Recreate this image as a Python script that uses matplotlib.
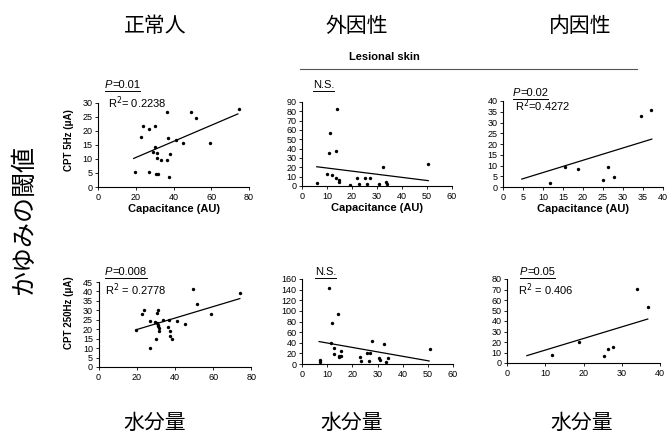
import matplotlib
matplotlib.use("Agg")
import matplotlib.pyplot as plt
import numpy as np
from matplotlib.lines import Line2D

plt.rcParams['font.family'] = ['Liberation Sans', 'DejaVu Sans']
CJK = ['Noto Sans CJK JP', 'DejaVu Sans']

# ---- data: skin capacitance (AU) vs current perception threshold ----
# normal subjects, CPT 5Hz
n5_x = [19.4, 22.9, 24.1, 26.9, 30.3, 26.9, 30.3, 29.4, 31.1, 31.1, 33.2, 30.6, 31.6,
        36.8, 37.3, 36.8, 38.2, 37.6, 41.3, 45.2, 49.2, 51.7, 59.2, 74.5]
n5_y = [5.5, 17.7, 21.8, 20.7, 21.8, 5.5, 14.4, 12.6, 12.3, 10.5, 9.6, 4.5, 4.5,
        26.9, 17.6, 9.6, 11.7, 3.5, 16.8, 15.6, 26.9, 24.8, 15.6, 27.9]
# exogenous (lesional), CPT 5Hz
e5_x = [6.1, 9.9, 11.9, 10.9, 11.2, 13.9, 13.6, 13.6, 14.8, 14.6, 19.2, 22.1, 22.8,
        25.2, 27.2, 26.1, 30.9, 32.5, 33.6, 33.8, 50.5]
e5_y = [2.9, 12.8, 12.3, 34.9, 56.9, 82.0, 37.7, 8.2, 6.0, 4.5, 1.0, 8.2, 2.5,
        8.5, 9.0, 2.5, 2.5, 20.6, 4.0, 2.5, 23.5]
# endogenous (lesional), CPT 5Hz
i5_x = [11.7, 15.4, 18.8, 25.1, 26.2, 27.8, 34.4, 37.0]
i5_y = [2.0, 9.4, 8.4, 3.4, 9.4, 4.5, 33.0, 36.0]

# normal subjects, CPT 250Hz
n250_x = [19.4, 23.0, 24.0, 26.9, 26.9, 29.8, 30.4, 31.0, 30.8, 31.2, 31.3, 31.7, 29.9,
          31.6, 33.5, 36.5, 37.0, 37.6, 37.5, 38.2, 40.8, 45.2, 49.2, 51.6, 58.8, 73.9]
n250_y = [19.8, 28.2, 30.0, 24.2, 10.1, 24.0, 23.5, 22.5, 28.4, 30.0, 21.5, 20.5, 15.0,
          18.9, 25.1, 21.2, 25.1, 18.9, 16.6, 15.0, 24.2, 23.0, 41.1, 33.2, 28.2, 39.4]
# exogenous (lesional), CPT 250Hz
e250_x = [7.1, 7.0, 10.8, 11.7, 12.0, 12.6, 12.6, 14.3, 14.8, 15.3, 15.5, 14.9,
          22.9, 23.3, 25.8, 26.6, 27.2, 27.7, 30.5, 30.9, 32.6, 33.5, 34.0, 50.7]
e250_y = [7.6, 3.0, 144.0, 40.0, 78.0, 31.0, 19.0, 94.0, 15.0, 24.0, 15.0, 13.0,
          13.9, 5.5, 21.4, 6.0, 21.0, 44.0, 11.0, 7.0, 37.0, 3.0, 11.0, 27.7]
# endogenous (lesional), CPT 250Hz
i250_x = [11.8, 18.9, 25.3, 26.3, 27.6, 34.1, 36.8]
i250_y = [7.2, 19.6, 6.3, 13.6, 14.9, 70.7, 53.3]

# regression lines: slope, intercept, x-range
fit_slope = [0.288, -0.334, 0.572, 0.304, -0.835, 1.104]
fit_icpt = [4.76, 22.6, 1.0, 13.75, 47.9, 1.26]
fit_x0 = [18.9, 5.9, 4.7, 19.9, 6.8, 5.2]
fit_x1 = [74.1, 50.5, 37.2, 73.9, 50.5, 36.8]

stat_p = ['P=0.01', 'N.S.', 'P=0.02', 'P=0.008', 'N.S.', 'P=0.05']
stat_r2 = ['R$^2$= 0.2238', None, 'R$^2$=0.4272', 'R$^2$ = 0.2778', None, 'R$^2$ = 0.406']

groups = ['正常人', '外因性', '内因性']
row_labels = ['CPT 5Hz (μA)', 'CPT 250Hz (μA)']
y_title = 'かゆみの閾値'
x_title = '水分量'
xlabel = 'Capacitance (AU)'

xs = [n5_x, e5_x, i5_x, n250_x, e250_x, i250_x]
ys = [n5_y, e5_y, i5_y, n250_y, e250_y, i250_y]

W, H = 670, 437
fig = plt.figure(figsize=(W / 100, H / 100), dpi=100)
fig.patch.set_facecolor('white')


def rect(x0, x1, ytop, ybot):
    return [x0 / W, 1 - ybot / H, (x1 - x0) / W, (ybot - ytop) / H]


# panel geometry (pixels) and axis ranges
boxes = [(98, 249, 103, 187), (302, 452, 102, 186), (503, 663, 101, 187),
         (98.5, 251.5, 282, 367), (302, 453, 279, 364), (507, 660, 279, 363)]
xlims = [80, 60, 40, 80, 60, 40]
xsteps = [20, 10, 5, 20, 10, 10]
ylims = [30, 90, 40, 45, 160, 80]
ysteps = [5, 10, 5, 5, 20, 10]
# annotation anchors (pixels, left edge / vertical centre)
p_pos = [(105, 85), (313, 85), (513, 93), (105, 272), (315, 272), (520, 272)]
r_pos = [(108, 103), None, (515, 106), (105, 290), None, (518, 290)]
FS = 8

fig.canvas.draw()
renderer = fig.canvas.get_renderer()

for i in range(6):
    ax = fig.add_axes(rect(*boxes[i]))
    ax.scatter(xs[i], ys[i], s=6, color='black', marker='o', linewidths=0, zorder=3)
    lx = np.array([fit_x0[i], fit_x1[i]])
    ax.plot(lx, fit_slope[i] * lx + fit_icpt[i], color='black', lw=0.9)
    ax.set_xlim(0, xlims[i])
    ax.set_ylim(0, ylims[i])
    ax.set_xticks(np.arange(0, xlims[i] + 0.1, xsteps[i]))
    ax.set_yticks(np.arange(0, ylims[i] + 0.1, ysteps[i]))
    ax.tick_params(labelsize=6.5, length=2, width=0.6, pad=2, colors='black')
    for s in ['top', 'right']:
        ax.spines[s].set_visible(False)
    for s in ['left', 'bottom']:
        ax.spines[s].set_linewidth(0.8)
    ax.set_facecolor('none')
    if i < 3:
        ax.set_xlabel(xlabel, fontsize=8, fontweight='bold', labelpad=2)

    # statistics text
    px, py = p_pos[i]
    if stat_p[i].startswith('P'):
        t1 = fig.text(px / W, 1 - py / H, 'P', fontsize=FS, va='center', ha='left',
                      style='italic')
        bb1 = t1.get_window_extent(renderer)
        t2 = fig.text(bb1.x1 / W, 1 - py / H, stat_p[i][1:], fontsize=FS,
                      va='center', ha='left')
        x_end = t2.get_window_extent(renderer).x1
    else:
        t = fig.text(px / W, 1 - py / H, stat_p[i], fontsize=FS, va='center', ha='left')
        x_end = t.get_window_extent(renderer).x1
    uy = 1 - (py + 5.5) / H
    fig.add_artist(Line2D([px / W, x_end / W], [uy, uy], color='black', lw=0.7,
                          transform=fig.transFigure))
    if r_pos[i] is not None:
        rx, ry = r_pos[i]
        fig.text(rx / W, 1 - ry / H, stat_r2[i], fontsize=FS, va='center', ha='left')

# column headings and bottom captions
for cx, g in zip([155, 357, 580], groups):
    fig.text(cx / W, 1 - 26 / H, g, fontsize=15, ha='center', va='center', family=CJK)
for cx in [155, 352, 582]:
    fig.text(cx / W, 1 - 423 / H, x_title, fontsize=15, ha='center', va='center',
             family=CJK)

# lesional skin bracket
fig.text(384 / W, 1 - 57 / H, 'Lesional skin', fontsize=8, fontweight='bold',
         ha='center', va='center')
fig.add_artist(Line2D([300 / W, 637 / W], [1 - 69 / H, 1 - 69 / H], color='#555555',
                      lw=0.8, transform=fig.transFigure))

# row labels
fig.text(69 / W, 1 - 140 / H, row_labels[0], fontsize=7, fontweight='bold',
         rotation=90, ha='center', va='center')
fig.text(69 / W, 1 - 313 / H, row_labels[1], fontsize=7, fontweight='bold',
         rotation=90, ha='center', va='center')
fig.text(24 / W, 1 - 220 / H, y_title, fontsize=18, rotation=90, ha='center',
         va='center', family=CJK)

fig.savefig('out.png', dpi=100, facecolor='white')
